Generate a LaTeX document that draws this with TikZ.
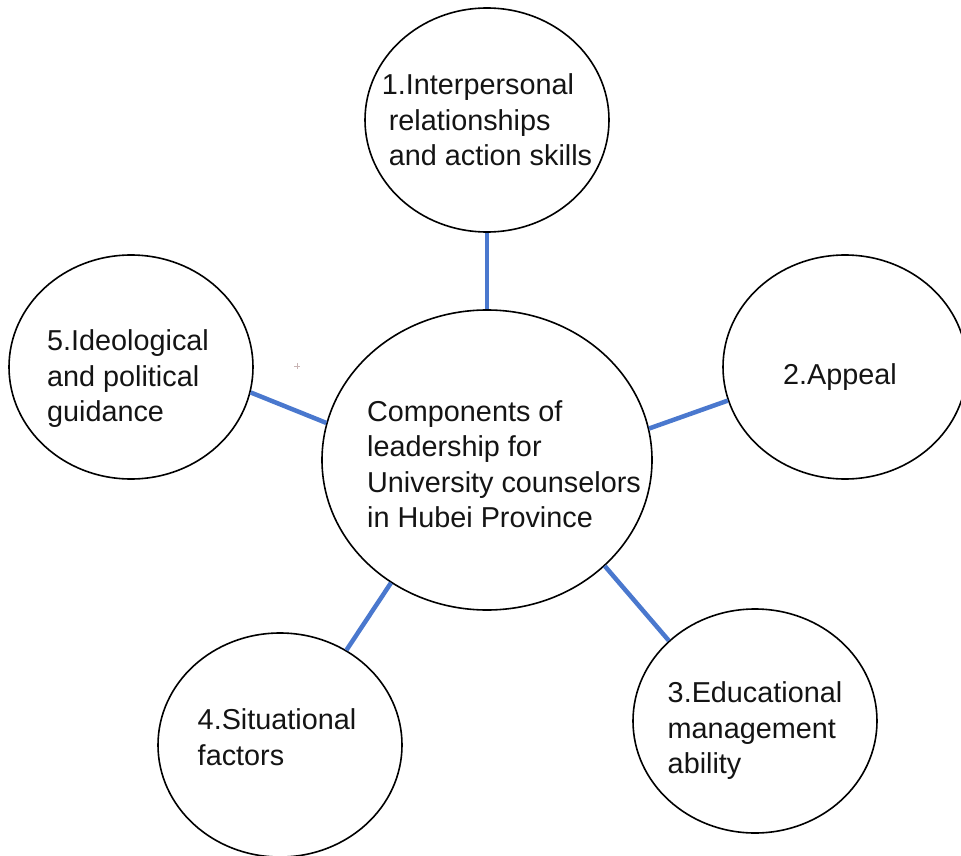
\documentclass[tikz,border=0pt]{standalone}
\usepackage{fontspec}
\setmainfont{Liberation Sans}
\usepackage{tikz}
\usetikzlibrary{shapes.geometric}
\definecolor{LeadInk}{RGB}{20,20,20}
\definecolor{LeadLink}{RGB}{74,120,206}
\definecolor{LeadMark}{RGB}{200,180,180}

\begin{document}
\begin{tikzpicture}[x=1pt,y=-1pt,
  part/.style={draw=black,line width=1.6pt,ellipse,minimum width=244pt,minimum height=224pt,inner sep=0pt},
  core/.style={part,minimum width=330pt,minimum height=300pt},
  label text/.style={font=\fontsize{28.8}{35.5}\selectfont,text=LeadInk,align=left,inner sep=0pt},
  link/.style={draw=LeadLink,line width=4.5pt}]
  \useasboundingbox (0,0) rectangle (961,856);
  % hub and the five components
  \node[core] (hub) at (487,460) {};
  \node[part] (c1) at (487,120) {};
  \node[part] (c2) at (845,367) {};
  \node[part] (c3) at (755,721) {};
  \node[part] (c4) at (280,745) {};
  \node[part] (c5) at (131,367) {};
  % their texts
  \node[label text] (hubtext) at (504,464)
    {Components of\\leadership for\\University counselors\\in Hubei Province};
  \node[label text] (t1) at (487,120) {1.Interpersonal\\\hspace*{7pt}relationships\\\hspace*{7pt}and action skills};
  \node[label text] (t2) at (840,377) {2.Appeal};
  \node[label text] (t3) at (755,731) {3.Educational\\management\\ability};
  \node[label text] (t4) at (277,737) {4.Situational\\factors};
  \node[label text] (t5) at (128,379) {5.Ideological\\and political\\guidance};
  % spokes
  \draw[link] (hub.90) -- (c1.-90);
  \draw[link] (hub.11) -- (c2.196);
  \draw[link] (hub.-42) -- (c3.137.5);
  \draw[link] (hub.-128) -- (c4.55.6);
  \draw[link] (hub.167) -- (c5.-12.5);
  % small cross
  \draw[LeadMark,line width=0.8pt] (294,366) -- (300,366) (297,363) -- (297,369);
\end{tikzpicture}
\end{document}
